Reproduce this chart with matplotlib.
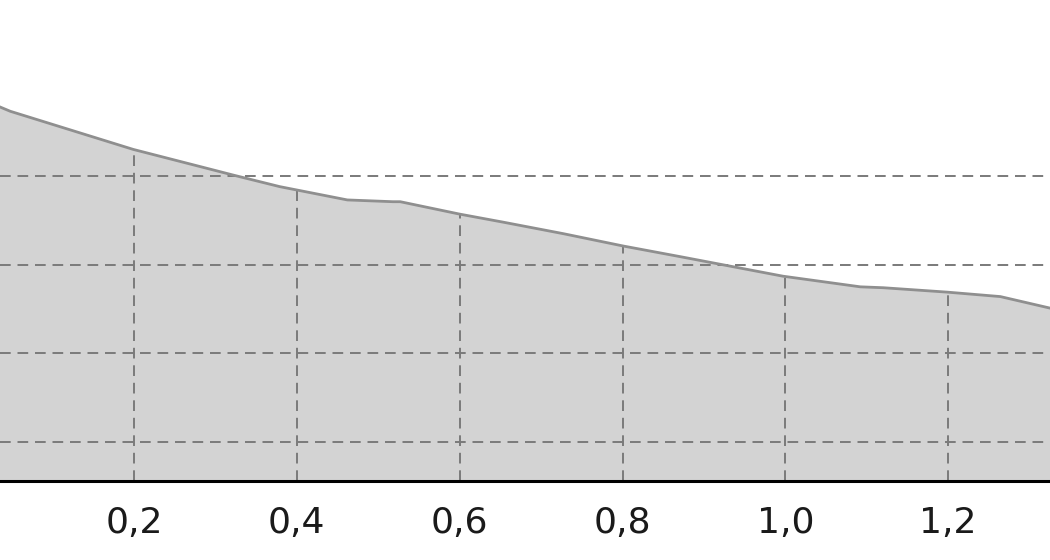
import numpy as np
import matplotlib
matplotlib.use("Agg")
import matplotlib.pyplot as plt
from matplotlib.ticker import FuncFormatter

# --- data ---
x_vals = [0.035, 0.048, 0.199, 0.322, 0.379, 0.462, 0.518, 0.527, 0.600,
          0.653, 0.727, 0.801, 0.871, 0.997, 1.092, 1.120, 1.199, 1.264, 1.325]
y_vals = [47.8, 47.3, 43.0, 40.1, 38.8, 37.3, 37.1, 37.1, 35.7,
          34.8, 33.5, 32.1, 30.9, 28.7, 27.5, 27.4, 26.9, 26.4, 25.1]
x_ticks = [0.2, 0.4, 0.6, 0.8, 1.0, 1.2]
y_grid = [10, 20, 30, 40]

x = np.array(x_vals)
y = np.array(y_vals)
y_bottom = 5.6

fig = plt.figure(figsize=(10.5, 5.6), dpi=100)
ax = fig.add_axes([0, 79 / 560, 1, 481 / 560])

# filled area
ax.fill_between(x, y, y_bottom, color="#d3d3d3", zorder=1, linewidth=0)

# horizontal grid lines (full width)
dash = (0, (5.5, 3.5))
for g in y_grid:
    ax.axhline(g, color="#7a7a7a", linestyle=dash, linewidth=1.4, zorder=2)

# vertical drop lines from the curve at each tick
for t in x_ticks:
    ax.vlines(t, y_bottom, np.interp(t, x, y), color="#7a7a7a",
              linestyle=dash, linewidth=1.4, zorder=2)

# curve outline
ax.plot(x, y, color="#8f8f8f", linewidth=2.0, zorder=3)

ax.set_xlim(0.0354, 1.325)
ax.set_ylim(y_bottom, 59.85)
ax.set_xticks(x_ticks)
ax.xaxis.set_major_formatter(FuncFormatter(lambda v, p: f"{v:.1f}".replace(".", ",")))
ax.tick_params(axis="x", length=0, pad=18, labelsize=26, colors="#1a1a1a")
ax.set_yticks([])

for side in ["top", "left", "right"]:
    ax.spines[side].set_visible(False)
ax.spines["bottom"].set_color("black")
ax.spines["bottom"].set_linewidth(2.2)
ax.spines["bottom"].set_zorder(4)

fig.savefig("out.png", dpi=100)
